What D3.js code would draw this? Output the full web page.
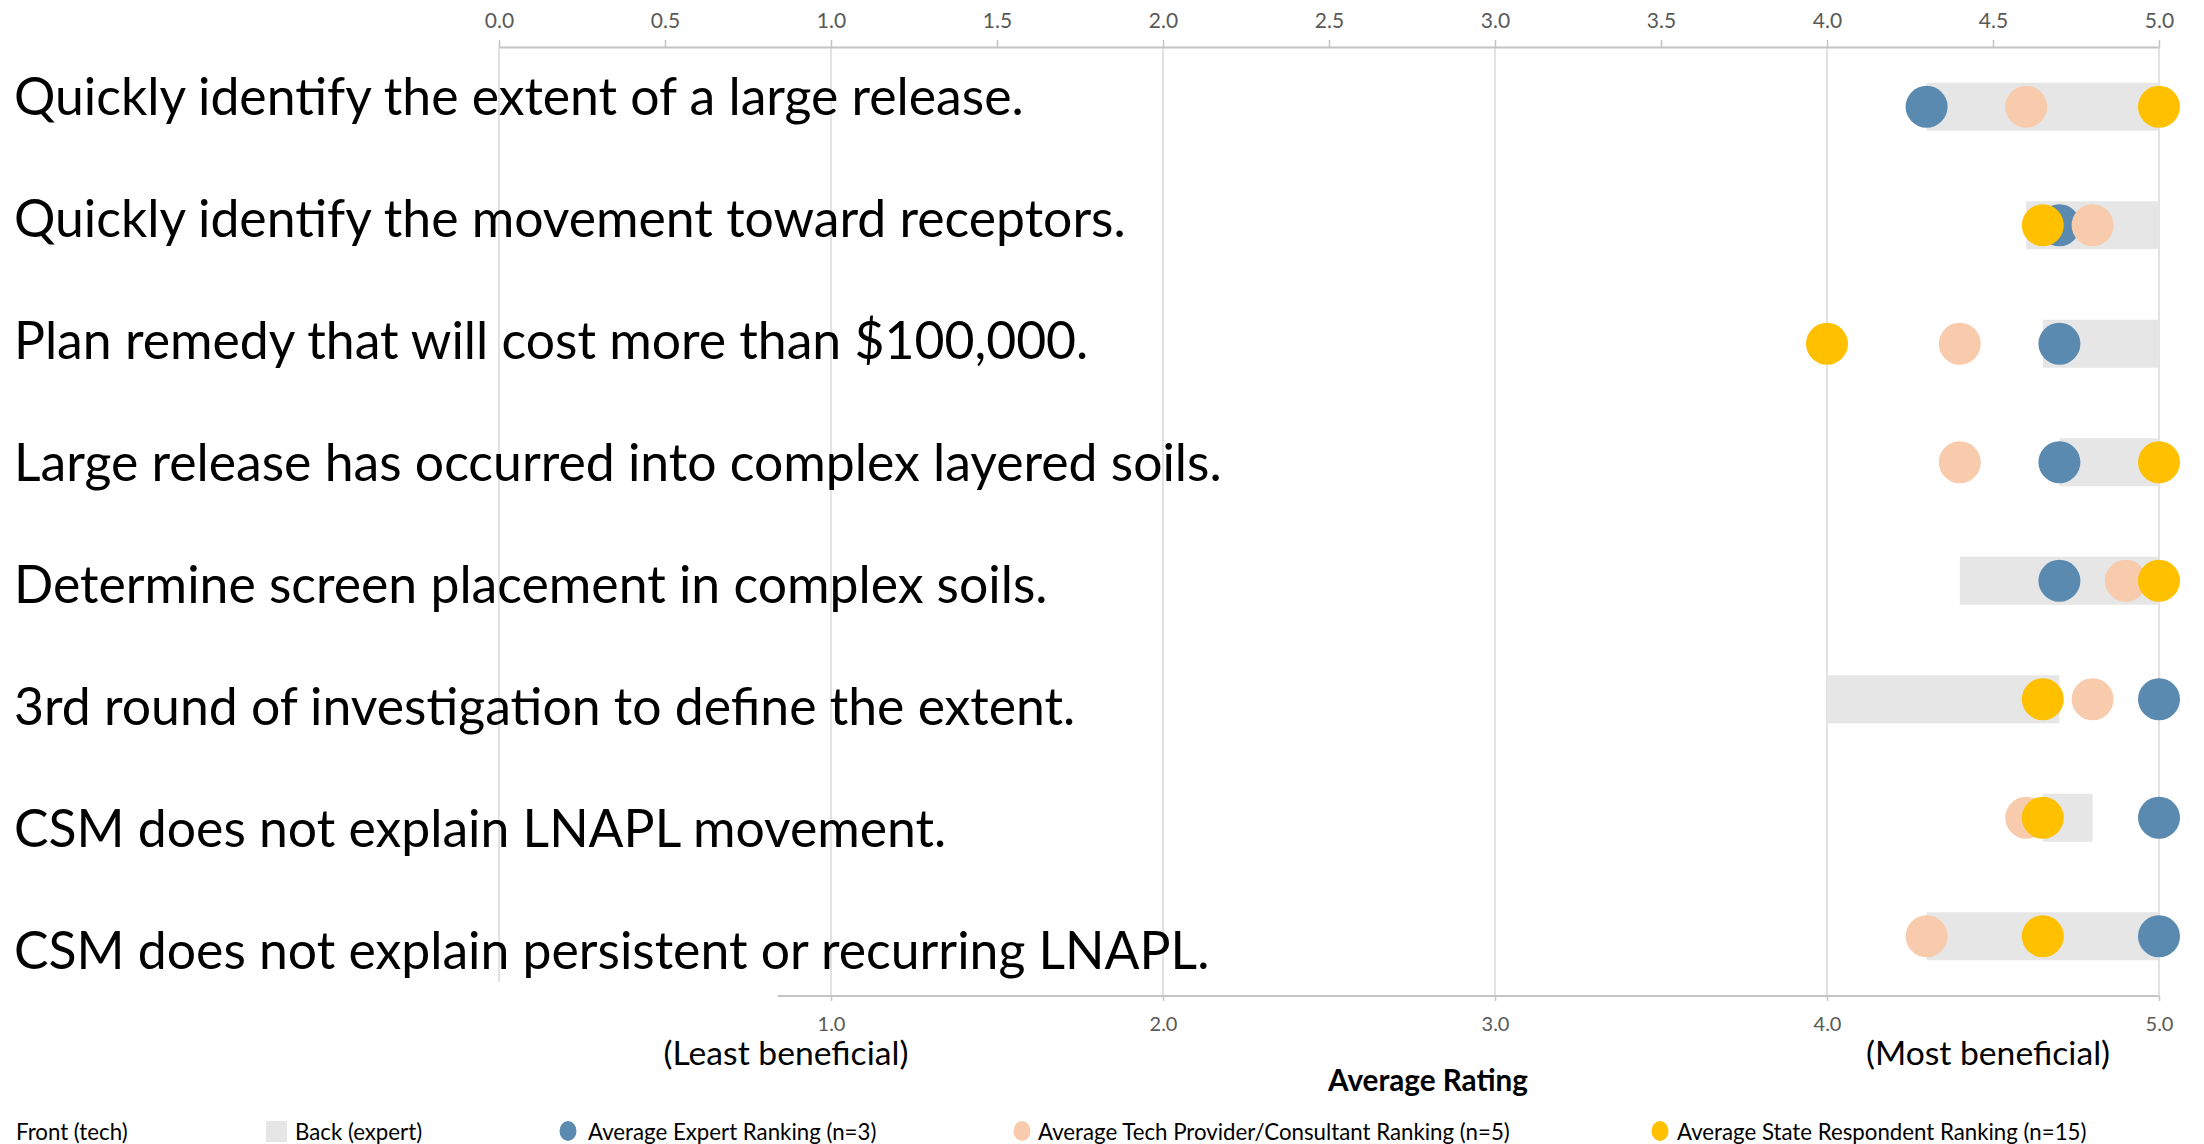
<!DOCTYPE html>
<html>
<head>
<meta charset="utf-8">
<script src="https://cdn.jsdelivr.net/npm/d3@7"></script>
<style>
  html, body { margin: 0; padding: 0; background: #ffffff; }
  svg { display: block; }
  text { font-family: Lato, "Open Sans", sans-serif; }
</style>
</head>
<body>
<svg id="chart" width="2204" height="1144"></svg>
<script>
// ---------------- DATA ----------------
const categories = [
  "Quickly identify the extent of a large release.",
  "Quickly identify the movement toward receptors.",
  "Plan remedy that will cost more than $100,000.",
  "Large release has occurred into complex layered soils.",
  "Determine screen placement in complex soils.",
  "3rd round of investigation to define the extent.",
  "CSM does not explain LNAPL movement.",
  "CSM does not explain persistent or recurring LNAPL."
];
// stacked bar series (invisible front + grey back)
const frontTech  = [4.30, 4.60, 4.65, 4.70, 4.40, 4.00, 4.65, 4.30];
const backExpert = [0.70, 0.40, 0.35, 0.30, 0.60, 0.70, 0.15, 0.70];
// point series
const expertRanking = [4.30, 4.70, 4.70, 4.70, 4.70, 5.00, 5.00, 5.00];
const techRanking   = [4.60, 4.80, 4.40, 4.40, 4.90, 4.80, 4.60, 4.30];
const stateRanking  = [5.00, 4.65, 4.00, 5.00, 5.00, 4.65, 4.65, 4.65];
// axes
const topTicks    = [0, 0.5, 1, 1.5, 2, 2.5, 3, 3.5, 4, 4.5, 5];
const bottomTicks = [1, 2, 3, 4, 5];
const gridValues  = [0, 1, 2, 3, 4, 5];
const bottomAxisStart = 0.84;
const axisTitle = "Average Rating";
const leastLabel = "(Least beneficial)";
const mostLabel  = "(Most beneficial)";
const legendLabels = [
  "Front (tech)",
  "Back (expert)",
  "Average Expert Ranking (n=3)",
  "Average Tech Provider/Consultant Ranking (n=5)",
  "Average State Respondent Ranking (n=15)"
];

// ---------------- STYLE ----------------
const COL_BLUE = "#5B8AB0";
const COL_PEACH = "#F7CBAC";
const COL_YELLOW = "#FFC000";
const COL_BAR = "#E6E6E6";
const COL_GRID = "#D9D9D9";
const COL_AXIS = "#C4C4C4";
const COL_TICK = "#595959";

const svg = d3.select("#chart");
svg.append("rect").attr("width", 2204).attr("height", 1144).attr("fill", "#fff");

const x = d3.scaleLinear().domain([0, 5]).range([499, 2159]);
const yBand = d3.scaleBand().domain(categories).range([47.5, 995.5]);
const yLabel = d3.scalePoint().domain(categories).range([115, 969]);
const barH = yBand.step() * 0.405;
const R = 21;

function fit(sel, target) {
  const w = sel.node().getComputedTextLength();
  const fs = parseFloat(sel.attr("font-size"));
  return fs * target / w;
}

// gridlines
svg.append("g").selectAll("line").data(gridValues).join("line")
  .attr("x1", d => x(d)).attr("x2", d => x(d))
  .attr("y1", 47).attr("y2", d => d === 0 ? 982 : 996)
  .attr("stroke", COL_GRID).attr("stroke-width", 1.5);

// top axis
const gTop = svg.append("g").attr("transform", "translate(0,47)")
  .call(d3.axisTop(x).tickValues(topTicks).tickFormat(d3.format(".1f"))
    .tickSize(7).tickSizeOuter(0).tickPadding(12));
gTop.select(".domain").attr("stroke", COL_AXIS).attr("stroke-width", 2);
gTop.selectAll(".tick line").attr("stroke", COL_AXIS).attr("stroke-width", 1.5);
gTop.selectAll(".tick text").attr("fill", COL_TICK).attr("font-size", 21)
  .attr("font-family", "Lato, sans-serif");

// bottom axis
const gBot = svg.append("g").attr("transform", "translate(0,996)")
  .call(d3.axisBottom(x).tickValues(bottomTicks).tickFormat(d3.format(".1f"))
    .tickSize(5).tickSizeOuter(0));
gBot.select(".domain").remove();
gBot.append("line").attr("x1", x(bottomAxisStart)).attr("x2", x(5))
  .attr("y1", 0).attr("y2", 0).attr("stroke", COL_AXIS).attr("stroke-width", 2);
gBot.selectAll(".tick line").attr("stroke", COL_AXIS).attr("stroke-width", 1.5);
gBot.selectAll(".tick text").attr("fill", COL_TICK).attr("font-size", 20)
  .attr("font-family", "Lato, sans-serif").attr("y", 35).attr("dy", 0);

// category labels
const labels = svg.append("g").selectAll("text").data(categories).join("text")
  .attr("x", 14).attr("y", d => yLabel(d))
  .attr("font-size", 50).attr("fill", "#000").text(d => d);
const labFs = fit(d3.select(labels.nodes()[0]), 1010);
labels.attr("font-size", labFs);

// bars
const rows = categories.map((c, i) => ({ c, front: frontTech[i], back: backExpert[i],
  e: expertRanking[i], t: techRanking[i], s: stateRanking[i] }));
svg.append("g").selectAll("rect").data(rows).join("rect")
  .attr("x", d => x(d.front))
  .attr("width", d => x(d.front + d.back) - x(d.front))
  .attr("y", d => yBand(d.c) + yBand.bandwidth() / 2 - barH / 2)
  .attr("height", barH)
  .attr("fill", COL_BAR);

// points
const series = [
  { key: "e", color: COL_BLUE },
  { key: "t", color: COL_PEACH },
  { key: "s", color: COL_YELLOW }
];
series.forEach(s => {
  svg.append("g").selectAll("circle").data(rows).join("circle")
    .attr("cx", d => x(d[s.key]))
    .attr("cy", d => yBand(d.c) + yBand.bandwidth() / 2)
    .attr("r", R).attr("fill", s.color);
});

// bottom annotations
const least = svg.append("text").attr("x", 786).attr("y", 1065)
  .attr("text-anchor", "middle").attr("font-size", 27).attr("fill", "#000").text(leastLabel);
const bFs = fit(least, 245);
least.attr("font-size", bFs);
svg.append("text").attr("x", 1988).attr("y", 1065)
  .attr("text-anchor", "middle").attr("font-size", bFs).attr("fill", "#000").text(mostLabel);
const title = svg.append("text").attr("x", 1428).attr("y", 1091)
  .attr("text-anchor", "middle").attr("font-size", 25).attr("font-weight", "bold")
  .attr("fill", "#000").text(axisTitle);
title.attr("font-size", fit(title, 200));

// legend
const legendX = [16, 295, 588, 1038, 1677];
const lg = svg.append("g");
const lt = lg.selectAll("text").data(legendLabels).join("text")
  .attr("x", (d, i) => legendX[i]).attr("y", 1140)
  .attr("font-size", 22).attr("fill", "#000").text(d => d);
const lFs = fit(d3.select(lt.nodes()[3]), 472);
lt.attr("font-size", lFs);
lg.append("rect").attr("x", 266).attr("y", 1121).attr("width", 21).attr("height", 21).attr("fill", COL_BAR);
const legendMarks = [
  { cx: 568, color: COL_BLUE },
  { cx: 1022, color: COL_PEACH },
  { cx: 1660, color: COL_YELLOW }
];
lg.selectAll("ellipse").data(legendMarks).join("ellipse")
  .attr("cx", d => d.cx).attr("cy", 1131).attr("rx", 8.5).attr("ry", 10)
  .attr("fill", d => d.color);
</script>
</body>
</html>
